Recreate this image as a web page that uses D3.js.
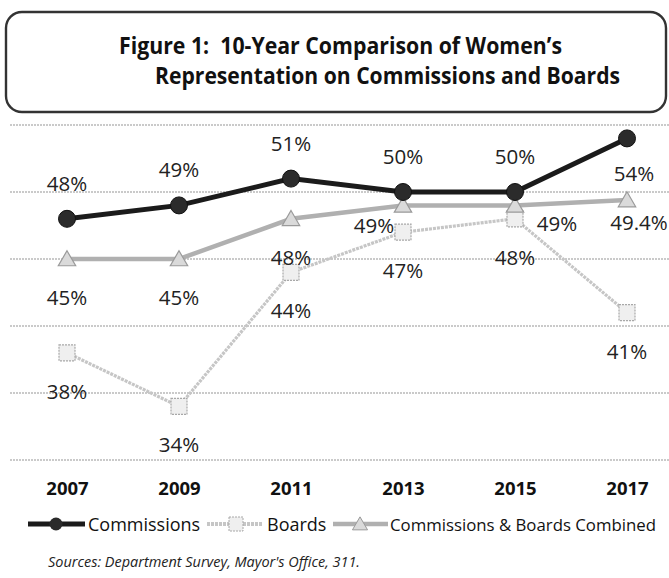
<!DOCTYPE html>
<html>
<head>
<meta charset="utf-8">
<script src="https://cdn.jsdelivr.net/npm/d3@7"></script>
<style>
  html, body { margin: 0; padding: 0; background: #fff; }
  svg { display: block; }
  text { font-family: "Open Sans", Lato, sans-serif; white-space: pre; }
</style>
</head>
<body>
<svg id="chart" width="669" height="578"></svg>
<script>
// ---- data ----
const years = ["2007", "2009", "2011", "2013", "2015", "2017"];
const commissions = [48, 49, 51, 50, 50, 54];
const boards = [38, 34, 44, 47, 48, 41];
const combined = [45, 45, 48, 49, 49, 49.4];
const commissionsLabels = ["48%", "49%", "51%", "50%", "50%", "54%"];
const boardsLabels = ["38%", "34%", "44%", "47%", "48%", "41%"];
const combinedLabels = ["45%", "45%", "48%", "49%", "49%", "49.4%"];
const gridTicks = [30, 35, 40, 45, 50, 55];
const seriesNames = ["Commissions", "Boards", "Commissions & Boards Combined"];
const titleLines = ["Figure 1:  10-Year Comparison of Women\u2019s", "Representation on Commissions and Boards"];
const sourceText = "Sources: Department Survey, Mayor's Office, 311.";

// label placement tokens (style, not data)
const commissionsPlace = ["t", "t", "t", "t", "t", "b2"];
const boardsPlace = ["b", "b", "b", "b", "b", "b"];
const combinedPlace = ["b", "b", "b", "bl", "br", "b3"];
const placeOffsets = {
  t: [0, -36], b: [0, 38], b2: [7, 35], bl: [-29, 20], br: [42, 18], b3: [12, 22]
};

const svg = d3.select("#chart");
const W = 669;

const x = d3.scalePoint().domain(years).range([67, 627]).padding(0);
const y = d3.scaleLinear().domain([30, 55]).range([460, 125]);

// helper: stretch a text element to a target width
function fitTo(sel, target) {
  sel.attr("textLength", target).attr("lengthAdjust", "spacingAndGlyphs");
}

// ---- title box ----
svg.append("rect")
  .attr("x", 6).attr("y", 12).attr("width", 660).attr("height", 100)
  .attr("rx", 16).attr("ry", 16)
  .attr("fill", "#fff").attr("stroke", "#333").attr("stroke-width", 2.4);

const title = svg.append("g").attr("font-weight", "bold").attr("fill", "#111").attr("font-size", 22.5);
title.append("text").attr("x", 119).attr("y", 54).attr("xml:space", "preserve")
  .text(titleLines[0]).call(fitTo, 443);
title.append("text").attr("x", 155).attr("y", 84)
  .text(titleLines[1]).call(fitTo, 465);

// ---- grid ----
svg.append("g").selectAll("line").data(gridTicks).join("line")
  .attr("x1", 10).attr("x2", W)
  .attr("y1", d => y(d)).attr("y2", d => y(d))
  .attr("stroke", "#969696").attr("stroke-width", 1.1)
  .attr("stroke-dasharray", "2,1");

// ---- x axis ----
const xAxis = svg.append("g")
  .attr("transform", "translate(0,482)")
  .call(d3.axisBottom(x).tickSize(0).tickPadding(0));
xAxis.select(".domain").remove();
xAxis.selectAll("text")
  .attr("font-size", 18.5).attr("font-weight", "bold").attr("fill", "#111")
  .attr("font-family", "\"Open Sans\", Lato, sans-serif");

// ---- series ----
const line = d3.line().x((d, i) => x(years[i])).y(d => y(d));

function tri(cx, cy, s) {
  return `M${cx},${cy - s * 0.55}L${cx + s * 0.58},${cy + s * 0.45}L${cx - s * 0.58},${cy + s * 0.45}Z`;
}

// Boards
svg.append("path").datum(boards)
  .attr("d", line).attr("fill", "none")
  .attr("stroke", "#c6c6c6").attr("stroke-width", 3.2)
  .attr("stroke-dasharray", "3,1");
svg.append("g").selectAll("rect").data(boards).join("rect")
  .attr("x", (d, i) => x(years[i]) - 8).attr("y", d => y(d) - 8)
  .attr("width", 16).attr("height", 16)
  .attr("fill", "#efefef").attr("stroke", "#a8a8a8").attr("stroke-width", 1.2)
  .attr("stroke-dasharray", "2,1");

// Combined
svg.append("path").datum(combined)
  .attr("d", line).attr("fill", "none")
  .attr("stroke", "#b0b0b0").attr("stroke-width", 4.5);
svg.append("g").selectAll("path").data(combined).join("path")
  .attr("d", (d, i) => tri(x(years[i]), y(d), 15))
  .attr("fill", "#dadada").attr("stroke", "#9a9a9a").attr("stroke-width", 1.2);

// Commissions
svg.append("path").datum(commissions)
  .attr("d", line).attr("fill", "none")
  .attr("stroke", "#1b1b1b").attr("stroke-width", 5);
svg.append("g").selectAll("circle").data(commissions).join("circle")
  .attr("cx", (d, i) => x(years[i])).attr("cy", d => y(d))
  .attr("r", 8.5).attr("fill", "#2b2b2b").attr("stroke", "#111").attr("stroke-width", 1);

// ---- data labels ----
function addLabels(vals, labels, places) {
  svg.append("g").selectAll("text").data(vals).join("text")
    .attr("x", (d, i) => x(years[i]) + placeOffsets[places[i]][0])
    .attr("y", (d, i) => y(d) + placeOffsets[places[i]][1])
    .attr("text-anchor", "middle").attr("dominant-baseline", "central")
    .attr("font-size", 20.5).attr("fill", "#222")
    .text((d, i) => labels[i]);
}
addLabels(commissions, commissionsLabels, commissionsPlace);
addLabels(boards, boardsLabels, boardsPlace);
addLabels(combined, combinedLabels, combinedPlace);

// ---- legend ----
const ly = 524;
const leg = svg.append("g");
// Commissions
leg.append("line").attr("x1", 28).attr("x2", 85).attr("y1", ly).attr("y2", ly)
  .attr("stroke", "#1b1b1b").attr("stroke-width", 5);
leg.append("circle").attr("cx", 56).attr("cy", ly).attr("r", 6.5).attr("fill", "#2b2b2b");
leg.append("text").attr("x", 88).attr("y", ly).attr("dominant-baseline", "central")
  .attr("font-size", 18).attr("fill", "#111").text(seriesNames[0]);
// Boards
leg.append("line").attr("x1", 207).attr("x2", 263).attr("y1", ly).attr("y2", ly)
  .attr("stroke", "#c6c6c6").attr("stroke-width", 4).attr("stroke-dasharray", "3,1");
leg.append("rect").attr("x", 229).attr("y", ly - 7).attr("width", 14).attr("height", 14)
  .attr("fill", "#efefef").attr("stroke", "#a8a8a8").attr("stroke-dasharray", "2,1");
leg.append("text").attr("x", 267).attr("y", ly).attr("dominant-baseline", "central")
  .attr("font-size", 18).attr("fill", "#111").text(seriesNames[1]);
// Combined
leg.append("line").attr("x1", 333).attr("x2", 388).attr("y1", ly).attr("y2", ly)
  .attr("stroke", "#b0b0b0").attr("stroke-width", 4.5);
leg.append("path").attr("d", tri(360, ly, 13))
  .attr("fill", "#dadada").attr("stroke", "#9a9a9a");
leg.append("text").attr("x", 390).attr("y", ly).attr("dominant-baseline", "central")
  .attr("font-size", 16.8).attr("fill", "#111").text(seriesNames[2]);

// ---- source ----
svg.append("text").attr("x", 48).attr("y", 567)
  .attr("font-size", 15).attr("font-style", "italic").attr("fill", "#222")
  .text(sourceText).call(fitTo, 312);
</script>
</body>
</html>
